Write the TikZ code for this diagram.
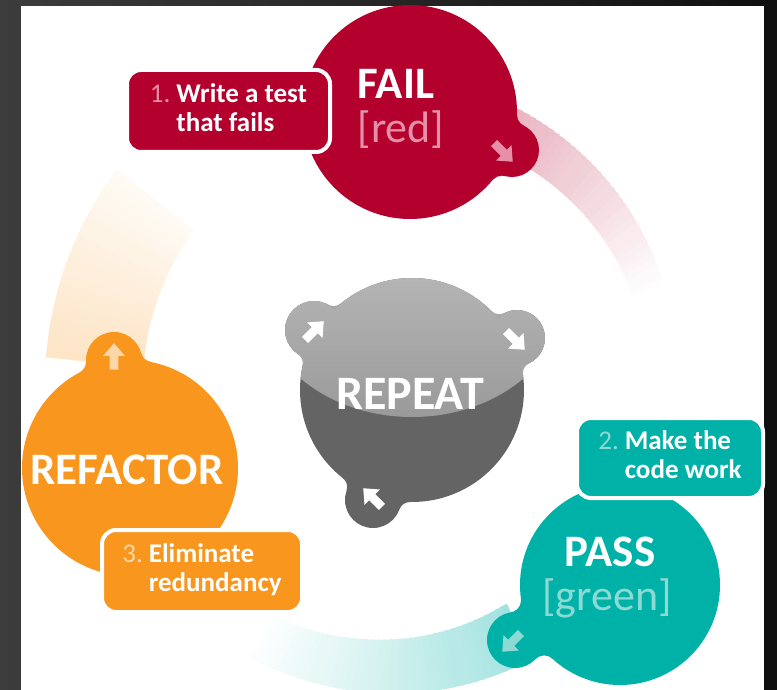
\documentclass[tikz,border=0pt]{standalone}
\usepackage{fontspec}
\setmainfont{Carlito}
\usetikzlibrary{arrows.meta,intersections}
\definecolor{tddred}{HTML}{B3002D}
\definecolor{redlite}{HTML}{E590A8}
\definecolor{tddteal}{HTML}{00B1A8}
\definecolor{teallite}{HTML}{8CDAD3}
\definecolor{tddorange}{HTML}{F8961D}
\definecolor{orangelite}{HTML}{FDD7AA}
\definecolor{graytop}{HTML}{C6C6C6}
\definecolor{graymid}{HTML}{9A9A9A}
\definecolor{grayneck}{HTML}{A8A8A8}
\definecolor{graydark}{HTML}{646464}
\definecolor{bgL}{HTML}{3C3C3C}
\definecolor{bgR}{HTML}{0F0F0F}
\newcommand\blkarrow[3]{\fill[#3, shift={(#1)}, rotate=#2, scale=1.15] (-11,-3.8) -- (1,-3.8) -- (1,-9.5) -- (12,0) -- (1,9.5) -- (1,3.8) -- (-11,3.8) -- cycle;}
% concave fillets between a main circle and a bump circle
\newcommand\fillet[6]{%
  \path[name path=fa] (#1) circle[radius=#2+#5];
  \path[name path=fb] (#3) circle[radius=#4+#5];
  \path[name intersections={of=fa and fb, name=FF}];
  \begin{scope}[even odd rule]
    \clip (0,0) rectangle (777,690) (FF-1) circle[radius=#5];
    \clip (0,0) rectangle (777,690) (FF-2) circle[radius=#5];
    \clip (0,0) rectangle (777,690) (#1) circle[radius=#2-0.6];
    \clip (0,0) rectangle (777,690) (#3) circle[radius=#4-0.6];
    \fill[#6] (#1) -- (FF-1) -- (#3) -- (FF-2) -- cycle;
  \end{scope}}
\tikzset{
  labelbox/.style={draw=white, line width=4, rounded corners=14, inner sep=0pt, text=white,
    font=\bfseries\fontsize{27}{29}\selectfont},
  bigword/.style={text=white, font=\bfseries\fontsize{45}{45}\selectfont, inner sep=0pt},
  subword/.style={font=\fontsize{44}{44}\selectfont, inner sep=0pt}
}
\begin{document}
\begin{tikzpicture}[x=1pt,y=-1pt]
\useasboundingbox (0,0) rectangle (777,690);
\shade[left color=bgL, right color=bgR] (0,0) rectangle (777,690);
\fill[white] (21,6) rectangle (764,690);
\coordinate (O) at (405,395);
\begin{scope}
\clip (21,6) rectangle (764,690);
% faded ring arcs
\foreach \aS/\aE/\riS/\riE/\roS/\roE/\col/\pS/\pE in {
  -76/-22/262/248/312/280/tddred/34/0,
  64/122/232/258/293/305/tddteal/38/0,
  186/218/263/268/361/366/tddorange/26/5}{
  \foreach \i in {0,...,39}{
    \pgfmathsetmacro\ta{\aS+(\aE-\aS)*\i/40}
    \pgfmathsetmacro\tb{min(\aS+(\aE-\aS)*(\i+1.4)/40,\aE)}
    \pgfmathsetmacro\ri{\riS+(\riE-\riS)*(\i+0.5)/40}
    \pgfmathsetmacro\ro{\roS+(\roE-\roS)*(\i+0.5)/40}
    \pgfmathtruncatemacro\pp{\pS+(\pE-\pS)*(\i+0.5)/40}
    \fill[\col!\pp!white] ([shift={(\ta:\ri)}]O) arc[start angle=\ta, end angle=\tb, radius=\ri]
      -- ([shift={(\tb:\ro)}]O) arc[start angle=\tb, end angle=\ta, radius=\ro] -- cycle;
  }
}
% FAIL bubble
\fill[tddred] (410,112) circle[radius=107] (512,150) circle[radius=27];
\fillet{410,112}{107}{512,150}{27}{12}{tddred}
\blkarrow{503,152}{-45}{redlite}
% REFACTOR bubble
\fill[tddorange] (130,468) circle[radius=108] (114,360) circle[radius=28];
\fillet{130,468}{108}{114,360}{28}{12}{tddorange}
\blkarrow{114,357}{90}{orangelite}
% PASS bubble
\fill[tddteal] (620,585) circle[radius=100] (515,640) circle[radius=28];
\fillet{620,585}{100}{515,640}{28}{12}{tddteal}
\blkarrow{512,642}{225}{teallite}
% REPEAT blob
\begin{scope}
\clip (412,390) circle[radius=112] (314,330) circle[radius=29] (517,338) circle[radius=28] (373,500) circle[radius=28];
\fill[graydark] (270,270) rectangle (560,540);
\shade[top color=graytop, bottom color=graymid] (412,300) ellipse[x radius=150, y radius=117];
\end{scope}
\fillet{412,390}{112}{314,330}{29}{11}{grayneck}
\fillet{412,390}{112}{517,338}{28}{11}{grayneck}
\fillet{412,390}{112}{373,500}{28}{11}{graydark}
\blkarrow{314,331}{45}{white}
\blkarrow{515,340}{-45}{white}
\blkarrow{373,498}{135}{white}
\end{scope}
% label boxes
\node[labelbox, fill=tddred, minimum width=203, minimum height=82] (failbox) at (228.5,111)
  {\begin{tabular}{@{}l@{\hspace{0.22em}}l@{}}{\mdseries\color{redlite}1.} & Write a test\\ & that fails\end{tabular}};
\node[labelbox, fill=tddteal, minimum width=186, minimum height=80] (passbox) at (670,458)
  {\begin{tabular}{@{}l@{\hspace{0.22em}}l@{}}{\mdseries\color{teallite}2.} & Make the\\ & code work\end{tabular}};
\node[labelbox, fill=tddorange, minimum width=200, minimum height=82] (refbox) at (202,571)
  {\begin{tabular}{@{}l@{\hspace{0.22em}}l@{}}{\mdseries\color{orangelite}3.} & Eliminate\\ & redundancy\end{tabular}};
% big words
\node[bigword] (fail) at (396,84) {FAIL};
\node[subword, text=redlite] (redw) at (401,130) {[red]};
\node[bigword, font=\bfseries\fontsize{48}{48}\selectfont] (repeat) at (410,394) {REPEAT};
\node[bigword] (refactor) at (127,470) {REFACTOR};
\node[bigword] (pass) at (610,552) {PASS};
\node[subword, text=teallite] (greenw) at (607,598) {[green]};
\end{tikzpicture}
\end{document}
